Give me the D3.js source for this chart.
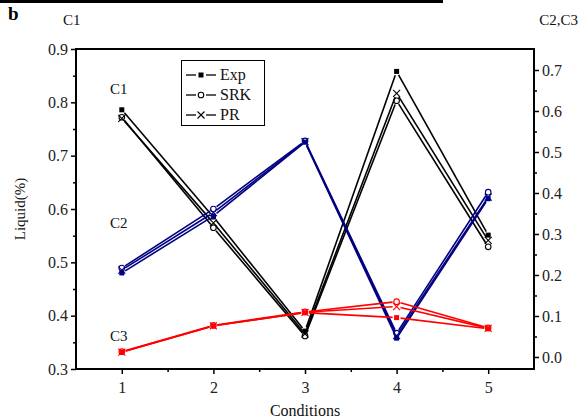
<!DOCTYPE html>
<meta charset="utf-8">
<script src="https://d3js.org/d3.v7.min.js"></script>
<style>
  body { margin: 0; background: #fff; }
  text { font-family: "Liberation Serif", "Times New Roman", serif; }
</style>
<div id="chart"></div>
<script>

// data
const conditions = [1, 2, 3, 4, 5];
const seriesNames = ["Exp", "SRK", "PR"];

// C1 - left axis
const c1Exp = [0.786, 0.585, 0.371, 0.858, 0.551];
const c1SRK = [0.772, 0.565, 0.362, 0.803, 0.529];
const c1PR  = [0.770, 0.574, 0.366, 0.817, 0.541];

// C2 - right axis
const c2Exp = [0.205, 0.344, 0.524, 0.046, 0.386];
const c2SRK = [0.217, 0.361, 0.527, 0.058, 0.402];
const c2PR  = [0.212, 0.352, 0.525, 0.052, 0.390];

// C3 - right axis
const c3Exp = [0.012, 0.076, 0.108, 0.096, 0.069];
const c3SRK = [0.013, 0.077, 0.110, 0.135, 0.071];
const c3PR  = [0.012, 0.076, 0.109, 0.123, 0.070];

const leftTicks = [0.3, 0.4, 0.5, 0.6, 0.7, 0.8, 0.9];
const rightTicks = [0.0, 0.1, 0.2, 0.3, 0.4, 0.5, 0.6, 0.7];

// layout
const W = 579, H = 420;
const margin = {top: 49, right: 45, bottom: 51, left: 76};
const width = W - margin.left - margin.right;
const height = H - margin.top - margin.bottom;
const serif = "Liberation Serif, Times New Roman, serif";

const svg = d3.select("#chart").append("svg")
  .attr("width", W)
  .attr("height", H)
  .attr("font-family", serif);

// stray rule at the very top of the figure
svg.append("rect")
  .attr("x", 0).attr("y", 0)
  .attr("width", 443).attr("height", 3)
  .attr("fill", "#000");

const g = svg.append("g")
  .attr("transform", `translate(${margin.left},${margin.top})`);

// scales
const x = d3.scaleLinear().domain([0.5, 5.5]).range([0, width]);
const yL = d3.scaleLinear().domain([0.3, 0.9]).range([height, 0]);
const yR = d3.scaleLinear().domain([-0.0293, 0.7512]).range([height, 0]);

// axes
const fmt = d3.format(".1f");

g.append("g")
  .attr("transform", `translate(0,${height})`)
  .call(d3.axisBottom(x).tickValues(conditions).tickFormat(d3.format("d")).tickSize(5).tickPadding(8));
g.append("g")
  .attr("transform", `translate(0,${height})`)
  .call(d3.axisBottom(x).tickValues([1.5, 2.5, 3.5, 4.5]).tickFormat("").tickSize(3));

g.append("g")
  .call(d3.axisLeft(yL).tickValues(leftTicks).tickFormat(fmt).tickSize(5).tickPadding(3));
g.append("g")
  .call(d3.axisLeft(yL).tickValues([0.35, 0.45, 0.55, 0.65, 0.75, 0.85]).tickFormat("").tickSize(3));

g.append("g")
  .attr("transform", `translate(${width},0)`)
  .call(d3.axisRight(yR).tickValues(rightTicks).tickFormat(fmt).tickSize(5).tickPadding(3));
g.append("g")
  .attr("transform", `translate(${width},0)`)
  .call(d3.axisRight(yR).tickValues([0.05, 0.15, 0.25, 0.35, 0.45, 0.55, 0.65]).tickFormat("").tickSize(3));

g.selectAll(".domain").remove();
g.selectAll(".tick line").attr("stroke", "#000").attr("stroke-width", 1.5);
g.selectAll(".tick text")
  .attr("font-size", 16)
  .attr("fill", "#222")
  .attr("font-family", serif);
g.selectAll("g").attr("font-family", serif);

// frame
g.append("rect")
  .attr("width", width).attr("height", height)
  .attr("fill", "none")
  .attr("stroke", "#000")
  .attr("stroke-width", 2);

// series
const groups = [
  {color: "#000", y: yL, data: [c1Exp, c1SRK, c1PR]},
  {color: "#000080", y: yR, data: [c2Exp, c2SRK, c2PR]},
  {color: "#ff0000", y: yR, data: [c3Exp, c3SRK, c3PR]}
];

const gap = 4; // Origin style gap between line and symbol

function drawSymbol(sel, kind, cx, cy, color) {
  if (kind === "Exp") {
    sel.append("rect")
      .attr("x", cx - 2.5).attr("y", cy - 2.5)
      .attr("width", 5).attr("height", 5)
      .attr("fill", color);
  } else if (kind === "SRK") {
    sel.append("circle")
      .attr("cx", cx).attr("cy", cy).attr("r", 2.8)
      .attr("fill", "none")
      .attr("stroke", color).attr("stroke-width", 1.1);
  } else {
    sel.append("path")
      .attr("d", `M${cx - 3.5},${cy - 3.5}L${cx + 3.5},${cy + 3.5}M${cx - 3.5},${cy + 3.5}L${cx + 3.5},${cy - 3.5}`)
      .attr("stroke", color).attr("stroke-width", 1.1);
  }
}

groups.forEach(function(grp) {
  grp.data.forEach(function(vals, si) {
    const kind = seriesNames[si];
    const pts = conditions.map((c, i) => [x(c), grp.y(vals[i])]);
    // segments shortened at both ends
    for (let i = 0; i < pts.length - 1; i++) {
      const [x0, y0] = pts[i], [x1, y1] = pts[i + 1];
      const len = Math.hypot(x1 - x0, y1 - y0);
      const ux = (x1 - x0) / len, uy = (y1 - y0) / len;
      g.append("line")
        .attr("x1", x0 + ux * gap).attr("y1", y0 + uy * gap)
        .attr("x2", x1 - ux * gap).attr("y2", y1 - uy * gap)
        .attr("stroke", grp.color)
        .attr("stroke-width", 1.6);
    }
    pts.forEach(p => drawSymbol(g, kind, p[0], p[1], grp.color));
  });
});

// curve labels
const curveLabels = [
  {t: "C1", x: 110, y: 94},
  {t: "C2", x: 110, y: 228},
  {t: "C3", x: 110, y: 341}
];
curveLabels.forEach(function(d) {
  svg.append("text")
    .attr("x", d.x).attr("y", d.y)
    .attr("font-size", 15)
    .attr("fill", "#111")
    .text(d.t);
});

// legend
const lg = svg.append("g");
lg.append("rect")
  .attr("x", 181.5).attr("y", 60.5)
  .attr("width", 83).attr("height", 65)
  .attr("fill", "#fff")
  .attr("stroke", "#000")
  .attr("stroke-width", 1);
seriesNames.forEach(function(name, i) {
  const ly = 75 + i * 20;
  lg.append("line")
    .attr("x1", 186).attr("x2", 196).attr("y1", ly).attr("y2", ly)
    .attr("stroke", "#000").attr("stroke-width", 1.3);
  lg.append("line")
    .attr("x1", 206).attr("x2", 216).attr("y1", ly).attr("y2", ly)
    .attr("stroke", "#000").attr("stroke-width", 1.3);
  drawSymbol(lg, name, 201, ly, "#000");
  lg.append("text")
    .attr("x", 220).attr("y", ly + 5)
    .attr("font-size", 16)
    .attr("fill", "#111")
    .text(name);
});

// titles
svg.append("text")
  .attr("x", 8).attr("y", 20)
  .attr("font-size", 19)
  .attr("font-weight", "bold")
  .text("b");
svg.append("text")
  .attr("x", 63).attr("y", 25)
  .attr("font-size", 15)
  .attr("fill", "#111")
  .text("C1");
svg.append("text")
  .attr("x", 578).attr("y", 25)
  .attr("text-anchor", "end")
  .attr("font-size", 15)
  .attr("fill", "#111")
  .text("C2,C3");

svg.append("text")
  .attr("transform", `translate(25,${margin.top + height / 2}) rotate(-90)`)
  .attr("text-anchor", "middle")
  .attr("font-size", 15)
  .attr("fill", "#111")
  .text("Liquid(%)");

svg.append("text")
  .attr("x", margin.left + x(3))
  .attr("y", 416)
  .attr("text-anchor", "middle")
  .attr("font-size", 16)
  .attr("fill", "#111")
  .text("Conditions");

</script>
